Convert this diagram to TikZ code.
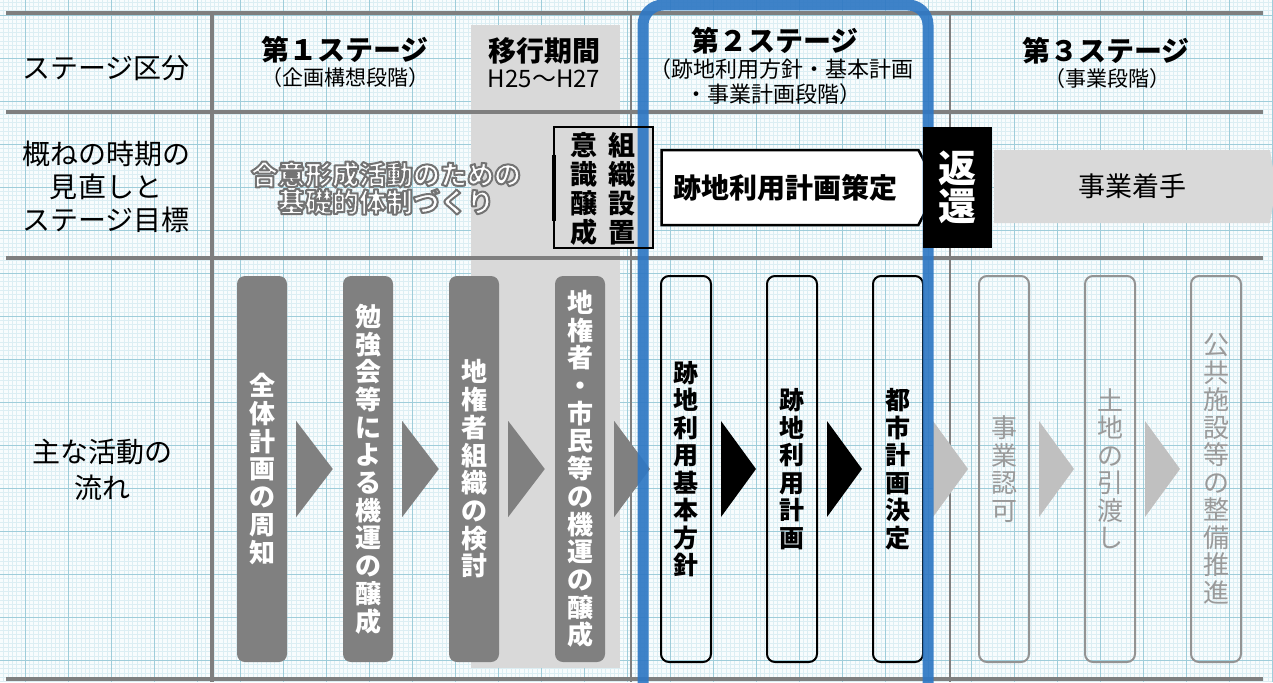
\documentclass[tikz,border=0pt]{standalone}
\usepackage{fontspec}
\setmainfont{Noto Sans CJK JP}
\usetikzlibrary{shapes.symbols,calc}
\definecolor{bgc}{HTML}{F8FCFD}
\definecolor{minorg}{HTML}{DCEEF3}
\definecolor{majorg}{HTML}{9FCDDA}
\definecolor{gline}{HTML}{7F7F7F}
\definecolor{shadegray}{HTML}{D9D9D9}
\definecolor{boxgray}{HTML}{808080}
\definecolor{lightarrow}{HTML}{C0C0C0}
\definecolor{fadedtext}{HTML}{9A9A9A}
\definecolor{fadedline}{HTML}{939393}
\definecolor{stageblue}{HTML}{2F78C4}
\tikzset{
  tline/.style={draw=gline, line width=4pt},
  thinline/.style={draw=gline, line width=2pt},
  minorgrid/.style={draw=minorg, line width=0.4pt},
  majorgrid/.style={draw=majorg, line width=0.9pt},
  lbl/.style={inner sep=0pt, align=center, font=\fontsize{28}{33}\selectfont},
  headb/.style={inner sep=0pt, align=center, font=\bfseries\fontsize{28}{30}\selectfont},
  heads/.style={inner sep=0pt, align=center, font=\fontsize{22}{24}\selectfont},
  goal/.style={inner sep=0pt, align=center, font=\bfseries\fontsize{27}{27.5}\selectfont},
  flowbox/.style={rounded corners=8pt, minimum width=50pt, minimum height=386pt, inner sep=0pt, align=center},
  darkbox/.style={flowbox, fill=boxgray, text=white, font=\bfseries\fontsize{26}{27.7}\selectfont},
  blackbox/.style={flowbox, draw=black, line width=2pt, text=black, font=\bfseries\fontsize{25}{27.5}\selectfont},
  fadedbox/.style={flowbox, draw=fadedline, line width=2pt, text=fadedtext, font=\fontsize{26}{27.5}\selectfont},
}
\newcommand\flowtri[3]{\fill[#3] ($(#1.east)+(9,-48)$) -- ($(#2.west)+(-10,0)$) -- ($(#1.east)+(9,48)$) -- cycle;}
\newcommand\olin[1]{{\color{white}\special{pdf:literal direct 2 Tr 2 w 1 j 0.45 G}#1\special{pdf:literal direct 0 Tr}}}
\begin{document}
\begin{tikzpicture}[x=1pt,y=-1pt]
\useasboundingbox (0,0) rectangle (1273,682);
\clip (0,0) rectangle (1273,682);
% graph paper
\fill[bgc] (0,0) rectangle (1273,682);
\foreach \i in {0,...,295} \draw[minorgrid] ({3.5+4.3*\i},0) -- ++(0,682);
\foreach \i in {0,...,158} \draw[minorgrid] (0,{2.1+4.3*\i}) -- ++(1273,0);
\foreach \i in {0,...,29} \draw[majorgrid] ({25+43*\i},0) -- ++(0,682);
\foreach \i in {0,...,15} \draw[majorgrid] (0,{15+43*\i}) -- ++(1273,0);
% transition period shading
\fill[shadegray] (471,25) rectangle (620,668);
% table lines
\foreach \yy in {13,112,258,679} \draw[tline] (6,\yy) -- (1263,\yy);
\draw[tline] (212,13) -- (212,682);
\draw[thinline] (631,13) -- (631,682);
\draw[thinline] (950,13) -- (950,682);
% left labels
\node[lbl] (l1) at (106,68) {ステージ区分};
\node[lbl] (l2) at (106,187) {概ねの時期の\\見直しと\\ステージ目標};
\node[lbl, font=\fontsize{28}{36}\selectfont] (l3) at (102,470) {主な活動の\\流れ};
% headings
\node[headb] (s1) at (345,50) {第１ステージ};
\node[heads, font=\fontsize{21}{23}\selectfont] (s1b) at (345,78) {（企画構想段階）};
\node[headb] (tp) at (544,51) {移行期間};
\node[heads, font=\fontsize{24}{26}\selectfont] (tpb) at (544,79) {H25～H27};
\node[headb] (s2) at (775,41) {第２ステージ};
\node[heads] (s2b) at (781,69) {（跡地利用方針・基本計画};
\node[heads] (s2c) at (773,94) {・事業計画段階）};
\node[headb] (s3) at (1106,51) {第３ステージ};
\node[heads, font=\fontsize{21}{23}\selectfont] (s3b) at (1107,79) {（事業段階）};
% goal text (white with grey outline)
\node[goal] (goaltext) at (386,188) {\olin{合意形成活動のための}\\\olin{基礎的体制づくり}};
% awareness / organisation box
\node[fill=shadegray, minimum width=99pt, minimum height=121pt, inner sep=0pt] (ishiki) at (603.5,187.5) {};
% plan formulation arrow
\node[shape=signal, signal to=east, signal pointer angle=126, draw=black, line width=2.5pt, fill=white,
      minimum width=276pt, minimum height=75pt, inner sep=0pt, font=\bfseries\fontsize{28}{30}\selectfont]
      (plan) at (790,187.5) {跡地利用計画策定\hspace*{10pt}};
% project start band
\node[shape=signal, signal to=east, signal pointer angle=161, fill=shadegray,
      minimum width=282pt, minimum height=73pt, inner sep=0pt, font=\fontsize{27}{29}\selectfont]
      (start) at (1132,186.5) {事業着手};
% flow boxes
\node[darkbox] (b1) at (262,469) {全\\体\\計\\画\\の\\周\\知};
\node[darkbox] (b2) at (368,469) {勉\\強\\会\\等\\に\\よ\\る\\機\\運\\の\\醸\\成};
\node[darkbox] (b3) at (474,469) {地\\権\\者\\組\\織\\の\\検\\討};
\node[darkbox] (b4) at (580,469) {地\\権\\者\\・\\市\\民\\等\\の\\機\\運\\の\\醸\\成};
\node[blackbox] (b5) at (686,469) {跡\\地\\利\\用\\基\\本\\方\\針};
\node[blackbox] (b6) at (792,469) {跡\\地\\利\\用\\計\\画};
\node[blackbox] (b7) at (898,469) {都\\市\\計\\画\\決\\定};
\node[fadedbox] (b8) at (1004,469) {事\\業\\認\\可};
\node[fadedbox] (b9) at (1110,469) {土\\地\\の\\引\\渡\\し};
\node[fadedbox] (b10) at (1216,469) {公\\共\\施\\設\\等\\の\\整\\備\\推\\進};
% flow arrows
\flowtri{b1}{b2}{boxgray}
\flowtri{b2}{b3}{boxgray}
\flowtri{b3}{b4}{boxgray}
\flowtri{b4}{b5}{boxgray}
\flowtri{b5}{b6}{black}
\flowtri{b6}{b7}{black}
\flowtri{b7}{b8}{lightarrow}
\flowtri{b8}{b9}{lightarrow}
\flowtri{b9}{b10}{lightarrow}
% second stage highlight
\draw[stageblue, opacity=0.92, line width=11pt, rounded corners=20pt] (643,720) -- (643,5) -- (928,5) -- (928,720);
% box texts / borders above highlight
\draw[black, line width=2pt] (ishiki.south west) rectangle (ishiki.north east);
\draw[black, line width=3.5pt] ($(ishiki.west)+(0,-33)$) -- ($(ishiki.west)+(0,33)$);
\node[inner sep=0pt, align=center, font=\bfseries\fontsize{27}{29}\selectfont] (ishikiL) at ($(ishiki.center)+(-19.5,1)$) {意\\識\\醸\\成};
\node[inner sep=0pt, align=center, font=\bfseries\fontsize{27}{29}\selectfont] (ishikiR) at ($(ishiki.center)+(18.5,1)$) {組\\織\\設\\置};
% return box
\node[fill=black, minimum width=69pt, minimum height=121pt, inner sep=0pt, text=white, align=center,
      font=\bfseries\fontsize{38}{38}\selectfont] (henkan) at (957,187.5) {返\\還};
\end{tikzpicture}
\end{document}
